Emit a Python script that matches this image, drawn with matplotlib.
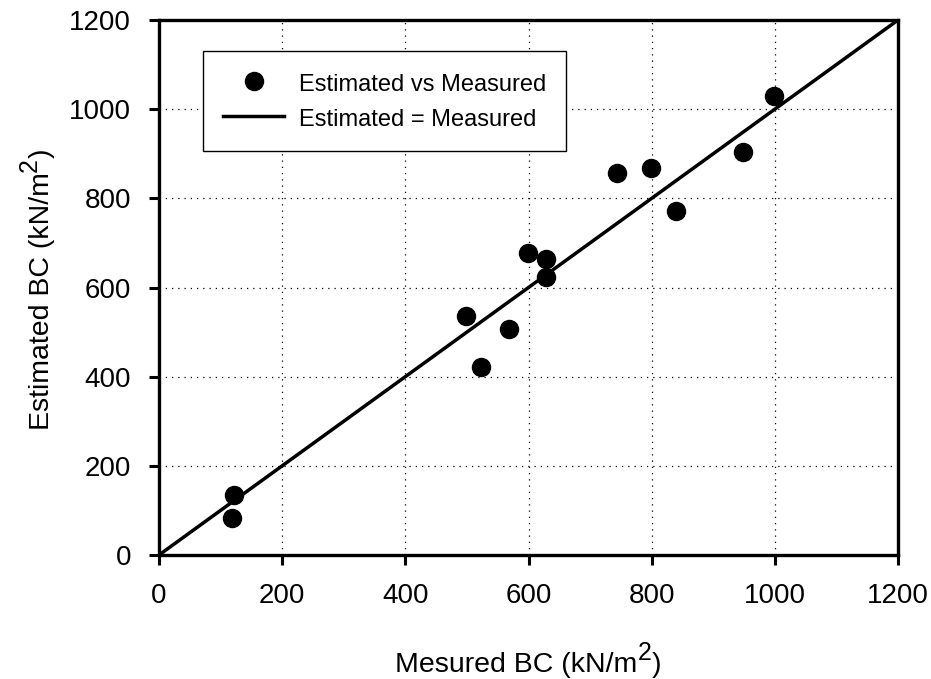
import matplotlib
matplotlib.use("Agg")
import matplotlib.pyplot as plt
from matplotlib.transforms import IdentityTransform

measured = [118, 122, 498, 523, 568, 599, 628, 628, 743, 799, 840, 949, 999]
estimated = [82, 134, 536, 422, 507, 678, 665, 624, 856, 868, 772, 903, 1030]
line_x = [0, 1200]
line_y = [0, 1200]
ticks = [0, 200, 400, 600, 800, 1000, 1200]
xlabel_parts = ['Mesured BC (kN/m', '2', ')']
ylabel_parts = ['Estimated BC (kN/m', '2', ')']

plt.rcParams['font.family'] = ['Liberation Sans', 'DejaVu Sans']

W, H = 931, 679
fig = plt.figure(figsize=(W/100, H/100), dpi=100)
ax = fig.add_axes([159/W, 1-555/H, 739/W, 535/H])

ax.plot(measured, estimated, 'o', color='black', markersize=13,
        label='Estimated vs Measured', zorder=3)
ax.plot(line_x, line_y, '-', color='black', linewidth=2.5,
        label='Estimated = Measured', zorder=2)

ax.set_xlim(0, 1200)
ax.set_ylim(0, 1200)
ax.set_xticks(ticks)
ax.set_yticks(ticks)
ax.grid(True, color='black', linestyle=(0, (1, 4)), linewidth=0.9)
ax.set_axisbelow(True)
for s in ax.spines.values():
    s.set_linewidth(2.4)
ax.tick_params(direction='out', length=7, width=2.2, labelsize=20, pad=13)

leg = ax.legend(loc='upper left', bbox_to_anchor=((203-159)/739, (555-51)/535),
                borderaxespad=0, fontsize=17, frameon=True, fancybox=False,
                edgecolor='black', handlelength=2.6, handletextpad=0.6,
                borderpad=0.85, labelspacing=0.4, handleheight=1.2, numpoints=1)
leg.get_frame().set_linewidth(1.0)
leg.get_frame().set_alpha(1)

renderer = fig.canvas.get_renderer()

def text_width(s, size):
    t = fig.text(0, 0, s, fontsize=size)
    w = t.get_window_extent(renderer).width
    t.remove()
    return w

def sup_label(parts, size, sup_size, raise_px, cx, cy, vertical):
    w0 = text_width(parts[0], size)
    w1 = text_width(parts[1], sup_size)
    w2 = text_width(parts[2], size)
    total = w0 + w1 + w2
    kw = dict(transform=IdentityTransform(), ha='left', va='baseline',
              rotation_mode='anchor')
    if not vertical:
        x0 = cx - total/2
        fig.text(x0, cy, parts[0], fontsize=size, **kw)
        fig.text(x0 + w0, cy + raise_px, parts[1], fontsize=sup_size, **kw)
        fig.text(x0 + w0 + w1, cy, parts[2], fontsize=size, **kw)
    else:
        y0 = cy - total/2
        fig.text(cx, y0, parts[0], fontsize=size, rotation=90, **kw)
        fig.text(cx - raise_px, y0 + w0, parts[1], fontsize=sup_size, rotation=90, **kw)
        fig.text(cx, y0 + w0 + w1, parts[2], fontsize=size, rotation=90, **kw)

sup_label(xlabel_parts, 20.5, 18, 12, 528, H - 672, False)
sup_label(ylabel_parts, 20.5, 18, 12, 49, H - 289, True)

fig.savefig('out.png', dpi=100)
